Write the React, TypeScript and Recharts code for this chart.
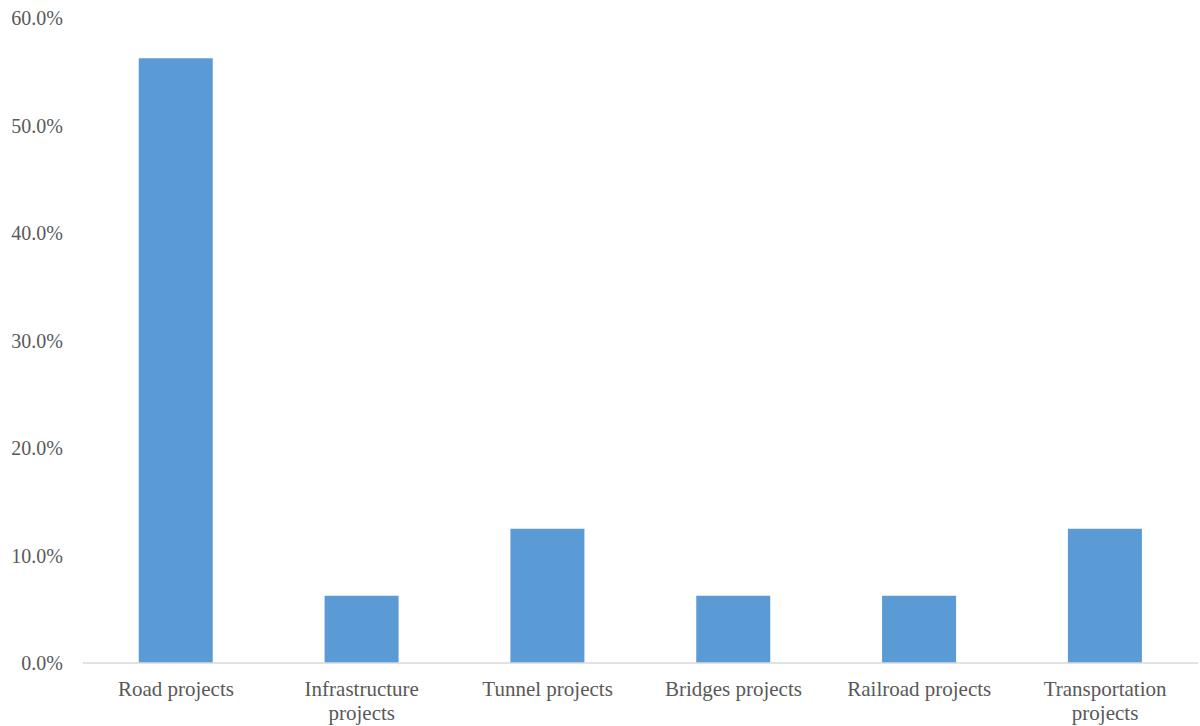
import React from "react";
import { BarChart, Bar, XAxis, YAxis } from "recharts";

const categories = [
  "Road projects",
  "Infrastructure projects",
  "Tunnel projects",
  "Bridges projects",
  "Railroad projects",
  "Transportation projects",
];
const shares = [56.25, 6.25, 12.5, 6.25, 6.25, 12.5];
const yTicks = [0, 10, 20, 30, 40, 50, 60];

const data = categories.map((name, i) => ({ name, value: shares[i] }));

const FONT = "'Liberation Serif', 'Times New Roman', serif";

const wrap = (s: string): string[] => {
  if (s.length <= 17) return [s];
  const idx = s.lastIndexOf(" ");
  return [s.slice(0, idx), s.slice(idx + 1)];
};

const XTick = (props: any) => {
  const { x, y, payload } = props;
  const lines = wrap(String(payload.value));
  return (
    <g transform={`translate(${x},${y})`}>
      <text
        textAnchor="middle"
        fill="#595959"
        fontFamily={FONT}
        fontSize={21}
      >
        {lines.map((l, i) => (
          <tspan key={i} x={0} dy={i === 0 ? 25 : 24}>
            {l}
          </tspan>
        ))}
      </text>
    </g>
  );
};

export default function App() {
  return (
    <div style={{ position: "absolute", left: 0, top: 0, background: "#fff" }}>
      <BarChart
        width={1200}
        height={726}
        data={data}
        margin={{ top: 18, right: 2, bottom: 0, left: 0 }}
        barCategoryGap="30%"
      >
        <XAxis
          dataKey="name"
          tick={<XTick />}
          tickLine={false}
          axisLine={{ stroke: "#d9d9d9", strokeWidth: 1.5 }}
          height={63}
          interval={0}
        />
        <YAxis
          width={83}
          domain={[0, 60]}
          ticks={yTicks}
          tickFormatter={(v: number) => `${v.toFixed(1)}%`}
          tickLine={false}
          axisLine={false}
          tickMargin={14}
          tick={{ fill: "#595959", fontFamily: FONT, fontSize: 20 }}
        />
        <Bar dataKey="value" fill="#5B9BD5" isAnimationActive={false} />
      </BarChart>
    </div>
  );
}
